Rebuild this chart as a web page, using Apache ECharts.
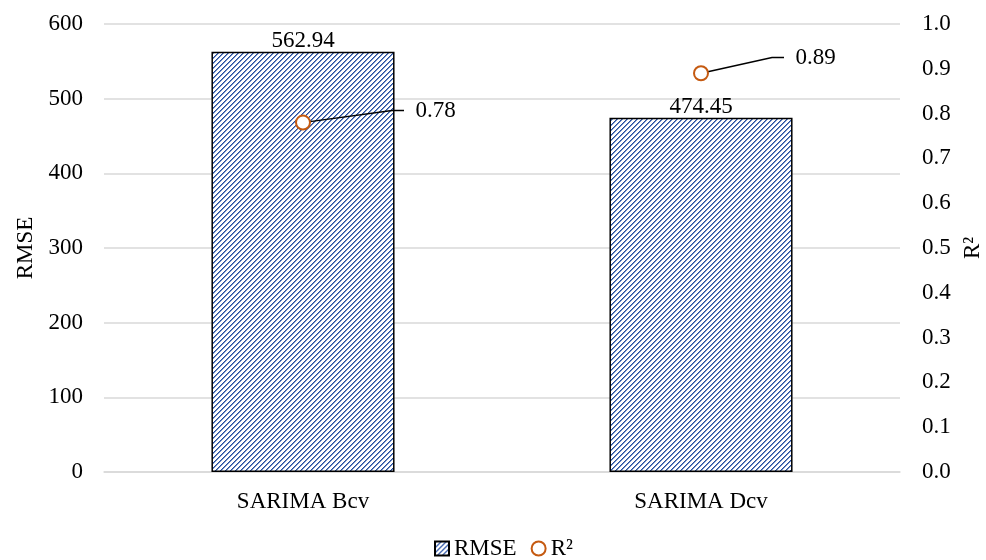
<!DOCTYPE html>
<html>
<head>
<meta charset="utf-8">
<script src="https://cdn.jsdelivr.net/npm/echarts@6/dist/echarts.min.js"></script>
<style>
  html, body { margin: 0; padding: 0; background: #fff; }
  #chart { width: 986px; height: 560px; }
</style>
</head>
<body>
<div id="chart"></div>
<script>
// Model names and their scores
const categories = ['SARIMA Bcv', 'SARIMA Dcv'];
const rmseValues = [562.94, 474.45];
const r2Values = [0.78, 0.89];

const FONT = '"Liberation Serif", "Times New Roman", serif';

// Pixel-exact diagonal hatch ("/" stripes) for the RMSE bars
function makeHatch() {
  const s = 5;
  const c = document.createElement('canvas');
  c.width = s; c.height = s;
  const g = c.getContext('2d');
  const img = g.createImageData(s, s);
  for (let y = 0; y < s; y++) {
    for (let x = 0; x < s; x++) {
      const k = (x + y) % s;
      let rgb = [255, 255, 255];
      if (k === 0) rgb = [40, 78, 156];
      else if (k === 1) rgb = [112, 142, 204];
      const i = (y * s + x) * 4;
      img.data[i] = rgb[0]; img.data[i + 1] = rgb[1]; img.data[i + 2] = rgb[2]; img.data[i + 3] = 255;
    }
  }
  g.putImageData(img, 0, 0);
  return c;
}
const hatch = { image: makeHatch(), repeat: 'repeat' };

// Offsets that place the R² labels up and to the right of each marker
const r2LabelShift = [[88, -12], [70, -16]];

const chart = echarts.init(document.getElementById('chart'));
chart.setOption({
  animation: false,
  textStyle: { fontFamily: FONT, color: '#000' },
  grid: { left: 104, right: 86, top: 24, bottom: 88, containLabel: false, outerBoundsMode: 'none' },
  legend: {
    bottom: -5,
    left: 429,
    itemWidth: 14,
    itemHeight: 14,
    itemGap: 14,
    textStyle: { fontFamily: FONT, fontSize: 23, color: '#000' },
    data: [
      { name: 'RMSE', icon: 'rect' },
      { name: 'R²', icon: 'circle' }
    ]
  },
  xAxis: {
    type: 'category',
    data: categories,
    axisTick: { show: false },
    axisLine: { lineStyle: { color: '#d9d9d9', width: 1.5 } },
    axisLabel: { fontFamily: FONT, fontSize: 23, color: '#000', margin: 18 }
  },
  yAxis: [
    {
      type: 'value',
      min: 0, max: 600, interval: 100,
      name: 'RMSE',
      nameLocation: 'middle',
      nameGap: 59,
      nameRotate: 90,
      nameTextStyle: { fontFamily: FONT, fontSize: 23, color: '#000' },
      axisLine: { show: false },
      axisTick: { show: false },
      splitLine: { lineStyle: { color: '#d9d9d9', width: 1.5 } },
      axisLabel: { fontFamily: FONT, fontSize: 23, color: '#000', margin: 21 }
    },
    {
      type: 'value',
      min: 0, max: 1, interval: 0.1,
      name: 'R²',
      nameLocation: 'middle',
      nameGap: 60,
      nameRotate: 90,
      nameTextStyle: { fontFamily: FONT, fontSize: 23, color: '#000' },
      axisLine: { show: false },
      axisTick: { show: false },
      splitLine: { show: false },
      axisLabel: {
        fontFamily: FONT, fontSize: 23, color: '#000', margin: 22,
        formatter: v => v.toFixed(1)
      }
    }
  ],
  series: [
    {
      name: 'RMSE',
      type: 'bar',
      yAxisIndex: 0,
      data: rmseValues,
      barWidth: '46%',
      itemStyle: { color: hatch, borderColor: '#000', borderWidth: 1.5 },
      label: {
        show: true,
        position: 'top',
        distance: -1,
        fontFamily: FONT, fontSize: 23, color: '#000',
        formatter: p => p.value.toFixed(2)
      }
    },
    {
      name: 'R²',
      type: 'scatter',
      yAxisIndex: 1,
      data: r2Values,
      symbol: 'circle',
      symbolSize: 14,
      itemStyle: { color: '#ffffff', borderColor: '#c55a11', borderWidth: 2, opacity: 1 },
      label: {
        show: true,
        position: 'right',
        fontFamily: FONT, fontSize: 23, color: '#000',
        textBorderWidth: 0,
        formatter: p => '  ' + p.value.toFixed(2)
      },
      labelLine: { show: true, length2: 12, lineStyle: { color: '#000', width: 1.5 } },
      // snap the shifted labels to whole pixels so the text stays crisp
      labelLayout: p => {
        const [sx, sy] = r2LabelShift[p.dataIndex];
        return {
          dx: Math.round(p.labelRect.x + sx) - p.labelRect.x,
          dy: Math.round(p.labelRect.y + sy) - p.labelRect.y
        };
      }
    }
  ]
});
</script>
</body>
</html>
